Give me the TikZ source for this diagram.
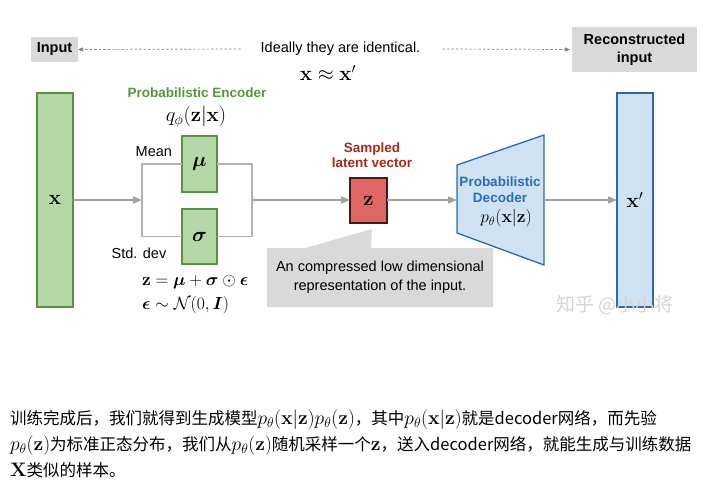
\RequirePackage{fix-cm}
\documentclass[tikz,border=0pt]{standalone}
\usepackage[no-math]{fontspec}
\setmainfont{Liberation Sans}
\newfontfamily\cjkfont{Noto Sans CJK SC}
\usepackage{amsmath,bm}
\usetikzlibrary{arrows.meta}
\definecolor{encfill}{RGB}{182,215,168}
\definecolor{encdraw}{RGB}{90,145,65}
\definecolor{enctext}{RGB}{85,150,60}
\definecolor{zfill}{RGB}{224,102,102}
\definecolor{zdraw}{RGB}{70,25,25}
\definecolor{ztext}{RGB}{170,40,25}
\definecolor{decfill}{RGB}{207,226,243}
\definecolor{decdraw}{RGB}{45,105,170}
\definecolor{dectext}{RGB}{40,110,180}
\definecolor{boxgray}{RGB}{217,217,217}
\definecolor{linegray}{RGB}{160,160,160}
\definecolor{wmgray}{RGB}{212,212,212}
\newcommand{\bmth}[1]{{\fontsize{19.5}{20}\selectfont$#1$}}
\tikzset{
  txt/.style={inner sep=0pt, outer sep=0pt, font=\fontsize{14.5}{17}\selectfont},
  btxt/.style={inner sep=0pt, outer sep=0pt, font=\fontsize{14.5}{18}\selectfont\bfseries, align=center},
  stxt/.style={inner sep=0pt, outer sep=0pt, font=\fontsize{13.5}{15.5}\selectfont\bfseries, align=center},
  mth/.style={inner sep=0pt, outer sep=0pt, font=\fontsize{20.5}{22}\selectfont},
  smth/.style={inner sep=0pt, outer sep=0pt, font=\fontsize{17.5}{20}\selectfont},
  graybox/.style={fill=boxgray, draw=none, inner sep=0pt, outer sep=0pt},
  encbox/.style={fill=encfill, draw=encdraw, line width=1.3pt, inner sep=0pt, outer sep=0pt, font=\fontsize{20.5}{22}\selectfont},
  decbox/.style={fill=decfill, draw=decdraw, line width=1.3pt, inner sep=0pt, outer sep=0pt, font=\fontsize{20.5}{22}\selectfont},
  zbox/.style={fill=zfill, draw=zdraw, line width=1.3pt, inner sep=0pt, outer sep=0pt, font=\fontsize{20.5}{22}\selectfont},
  flow/.style={draw=linegray, line width=1.5pt, -{Triangle[length=9pt,width=7pt]}},
  branch/.style={draw=linegray!80, line width=1.5pt},
  dasharrow/.style={draw=gray, line width=0.7pt, dash pattern=on 2.5pt off 2pt, -{Triangle[length=5pt,width=4pt]}},
  bottom/.style={inner sep=0pt, outer sep=0pt, anchor=west, font=\cjkfont\fontsize{16.5}{20}\selectfont}
}
\begin{document}
\begin{tikzpicture}[x=1pt,y=-1pt]
\useasboundingbox (0,0) rectangle (725,499);
% top row
\node[graybox, minimum width=47pt, minimum height=25pt, btxt] (input) at (54.5,49.5) {Input};
\node[graybox, minimum width=125pt, minimum height=45pt, btxt] (recon) at (634.5,49.5) {Reconstructed\\input};
\node[txt] (ideal) at (340.5,49) {Ideally they are identical.};
\node[mth] (approx) at (328,73) {$\mathbf{x} \approx \mathbf{x}'$};
\draw[dasharrow] ([xshift=-20pt]ideal.west) -- (input.east);
\draw[dasharrow] ([xshift=22pt]ideal.east) -- ([xshift=-2pt]recon.west);
% input column
\node[encbox, minimum width=36pt, minimum height=214pt] (x) at (55,200) {$\mathbf{x}$};
% encoder
\node[stxt, text=enctext] (enclabel) at (197,93) {Probabilistic Encoder};
\node[mth] (q) at (196,117) {$q_\phi(\mathbf{z}|\mathbf{x})$};
\node[encbox, minimum width=35pt, minimum height=56pt] (mu) at (199.5,164) {$\bm{\mu}$};
\node[encbox, minimum width=35pt, minimum height=55pt] (sigma) at (199.5,236.5) {$\bm{\sigma}$};
\node[txt, anchor=east] (mean) at (172,152) {Mean};
\node[txt] (std) at (139,253) {Std. dev};
\node[smth, anchor=west] (eq1) at (142,282) {$\mathbf{z} = \bm{\mu} + \bm{\sigma} \odot \bm{\epsilon}$};
\node[smth, anchor=west] (eq2) at (142,305) {$\bm{\epsilon} \sim \mathcal{N}(0, \bm{I})$};
\coordinate (bl) at (142,200);
\coordinate (br) at (252,200);
\draw[flow] (x.east |- bl) -- (bl);
\draw[branch] (mu.west) -| (bl) |- (sigma.west);
\draw[branch] (mu.east) -| (br) |- (sigma.east);
% latent
\node[zbox, minimum width=37pt, minimum height=45pt] (z) at (368.5,200.5) {$\mathbf{z}$};
\node[stxt, text=ztext] (zlabel) at (372,155) {Sampled\\latent vector};
\draw[flow] (br) -- (z.west |- br);
% callout
\fill[boxgray] (267,248) -- (305,248) -- (372,229) -- (371,248) -- (493,248) -- (493,307) -- (267,307) -- cycle;
\node[txt, align=center, font=\fontsize{14.5}{19}\selectfont] (callout) at (380,277.5) {An compressed low dimensional\\representation of the input.};
% decoder
\coordinate (decLT) at (457,165);
\coordinate (decRT) at (544,135);
\coordinate (decRB) at (544,265);
\coordinate (decLB) at (457,233);
\draw[decbox] (decLT) -- (decRT) -- (decRB) -- (decLB) -- cycle;
\coordinate (decL) at (457,200);
\coordinate (decR) at (544,200);
\node[stxt, text=dectext] (declabel) at (500,189.5) {Probabilistic\\Decoder};
\node[smth] (p) at (506,218) {$p_\theta(\mathbf{x}|\mathbf{z})$};
\draw[flow] (z.east |- decL) -- (decL);
% output column
\node[decbox, minimum width=36pt, minimum height=214pt] (xp) at (635,200) {$\mathbf{x}'$};
\draw[flow] (decR) -- (xp.west |- decR);
% watermark
\node[inner sep=0pt, anchor=west, text=wmgray, font=\cjkfont\fontsize{19}{22}\selectfont] (wm) at (556,305) {知乎 @小小将};
% bottom text
\node[bottom] (l1) at (10,420) {训练完成后，我们就得到生成模型\bmth{p_\theta(\mathbf{x}|\mathbf{z})p_\theta(\mathbf{z})}，其中\bmth{p_\theta(\mathbf{x}|\mathbf{z})}就是decoder网络，而先验};
\node[bottom] (l2) at (10,445.5) {\bmth{p_\theta(\mathbf{z})}为标准正态分布，我们从\bmth{p_\theta(\mathbf{z})}随机采样一个\bmth{\mathbf{z}}，送入decoder网络，就能生成与训练数据};
\node[bottom] (l3) at (10,470) {\bmth{\mathbf{X}}类似的样本。};
\end{tikzpicture}
\end{document}
